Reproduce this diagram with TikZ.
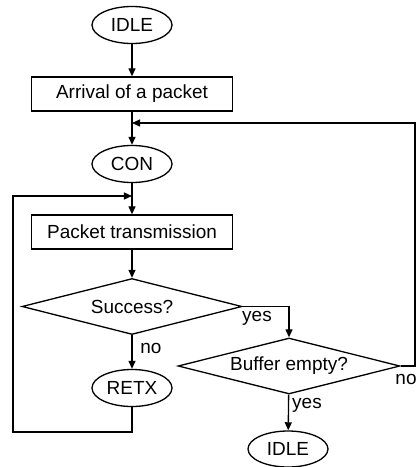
\documentclass[tikz,border=0pt]{standalone}
\usepackage{fontspec}
\setmainfont{Liberation Sans}
\usetikzlibrary{shapes.geometric,arrows.meta}
\begin{document}
\begin{tikzpicture}[x=0.02cm,y=-0.02cm,
  every node/.style={font=\fontsize{10.8}{13}\selectfont},
  state/.style={draw,ellipse,line width=0.75pt,minimum width=1.6cm,minimum height=0.74cm,inner sep=0pt},
  procbox/.style={draw,rectangle,line width=0.75pt,minimum width=4.02cm,minimum height=0.68cm,inner sep=0pt},
  decision/.style={draw,diamond,line width=0.75pt,minimum width=4.4cm,minimum height=1.12cm,inner sep=0pt,aspect=3.9},
  lbl/.style={inner sep=0pt},
  conn/.style={line width=0.75pt},
  arr/.style={line width=0.75pt,-{Triangle[length=4.6pt,width=4pt]}}]
\useasboundingbox (0,0) rectangle (417,467);
\node[state] (idle1) at (132,25) {IDLE};
\node[procbox] (arrival) at (132,94) {Arrival of a packet};
\coordinate (j1) at (132,123);
\node[state] (con) at (132,164) {CON};
\coordinate (j2) at (132,196);
\node[procbox] (trans) at (132,232) {Packet transmission};
\node[decision] (success) at (132,306.5) {Success?};
\node[state] (retx) at (132,388) {RETX};
\node[decision,minimum width=4.44cm] (buffer) at (289,366) {Buffer empty?};
\node[state,minimum height=0.72cm] (idle2) at (288,449) {IDLE};
\coordinate (rt) at (415,123);
\coordinate (lb) at (13,432);
% connectors
\draw[arr] (idle1) -- (arrival);
\draw[arr] (arrival) -- (con);
\draw[arr] (buffer.east) -| (rt) -- (j1);
\draw[arr] (con) -- (trans);
\draw[arr] (retx.south) |- (lb) |- (j2);
\draw[arr] (trans) -- (success);
\draw[arr] (success) -- (retx);
\draw[arr] (success.east) -| (buffer.north);
\draw[arr] (buffer) -- (idle2);
% labels
\node[lbl] (lyes1) at (257,318) {yes};
\node[lbl] (lno1) at (151,348) {no};
\node[lbl] (lyes2) at (307,405) {yes};
\node[lbl] (lno2) at (406,379) {no};
\end{tikzpicture}
\end{document}
